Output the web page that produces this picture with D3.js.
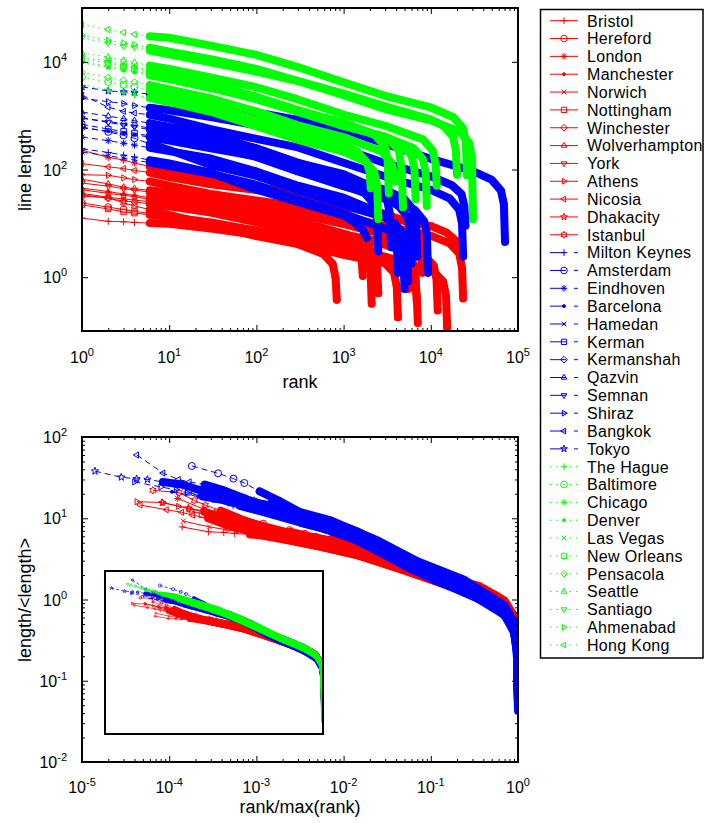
<!DOCTYPE html>
<html>
<head>
<meta charset="utf-8">
<script src="https://cdn.jsdelivr.net/npm/d3@7"></script>
<style>
  body { margin: 0; background: #fff; }
  text { font-family: "Liberation Sans", Arial, Helvetica, sans-serif; fill: #000; }
</style>
</head>
<body>
<svg id="chart" width="704" height="823"></svg>
<script>
// rank-size curves, [rank, line length]
const redNames = ['Bristol', 'Hereford', 'London', 'Manchester', 'Norwich', 'Nottingham', 'Winchester',
  'Wolverhampton', 'York', 'Athens', 'Nicosia', 'Dhakacity', 'Istanbul'];
const redMean = [1.6, 2.8, 13, 4.4, 3.9, 2.0, 4.5, 5.4, 7.8, 5.0, 8.8, 2.7, 1.45];
const redCurves = [
  [[1,12.5],[2,10.9],[3,10.7],[4,10.4],[6,10.1],[10,9.8],[30,8.0],[100,6.1],[300,4.2],[1000,2.6],[3000,1.8],[4970,1.3],[6390,0.83],[6890,0.48],[7100,0.14]],
  [[1,24],[2,20],[3,18],[4,16.6],[6,15.4],[10,13.4],[30,9.3],[100,5.8],[300,4.1],[585,2.7],[750,1.76],[810,0.96],[835,0.38]],
  [[1,228],[2,168],[3,150],[4,132],[6,114],[10,90],[30,65],[100,49],[300,34],[1000,21.5],[3000,15],[5600,10.2],[7200,6.6],[7760,3.6],[8000,1.2]],
  [[1,45],[2,39],[3,35],[4,33],[6,30],[10,26.5],[30,21],[100,14],[300,9],[1000,6],[1750,4.25],[2250,2.75],[2425,1.5],[2500,0.5]],
  [[1,36],[2,30.5],[3,28.4],[4,27],[6,25.2],[10,22.9],[30,18.4],[100,13.8],[300,9.4],[1000,6.0],[3000,4.0],[4830,3.0],[6210,1.9],[6690,1.05],[6900,0.35]],
  [[1,22],[2,18.5],[3,16.3],[4,15.5],[6,14.4],[10,13.1],[30,10.4],[100,7.3],[300,4.9],[1000,3.3],[2940,1.87],[3780,1.21],[4070,0.66],[4200,0.18]],
  [[1,34],[2,29],[3,26],[4,25],[6,23],[10,20.7],[30,15.8],[100,10.4],[300,6.9],[1000,4.4],[1470,3.4],[1890,2.2],[2040,1.2],[2100,0.32]],
  [[1,66],[2,54],[3,47],[4,44],[6,41],[10,37.6],[30,30],[100,22],[300,14.8],[1000,9.7],[3000,6.2],[3850,5.1],[4950,3.3],[5335,1.8],[5500,0.6]],
  [[1,56],[2,49],[3,44],[4,41.6],[6,38],[10,34.5],[30,25.7],[100,16.7],[300,11.3],[1160,6.0],[1490,3.9],[1610,2.1],[1660,1.05]],
  [[1,80],[2,78],[3,70],[4,65],[6,60],[10,50],[30,35],[100,26.5],[300,20.5],[1000,13.5],[3000,8.9],[10000,5.9],[16450,4.25],[21150,2.75],[22800,1.5],[23500,0.4]],
  [[1,128],[2,112],[3,104],[4,96],[6,88],[10,72],[30,53],[100,41.5],[300,32],[1000,21],[3000,13.8],[10000,8.9],[15050,6.8],[19350,4.8],[20850,4.0],[21500,3.6]],
  [[1,42],[2,36],[3,33],[4,31.5],[6,27.6],[10,24],[30,17.6],[100,13.8],[300,9.8],[1000,6.2],[3000,4.4],[8400,2.55],[10800,1.65],[11640,0.9],[12000,0.24]],
  [[1,32],[2,30],[3,24],[4,21],[6,18],[10,14.3],[30,9.3],[100,7.3],[300,5.4],[1000,3.5],[3000,2.4],[10780,1.28],[13860,0.83],[14940,0.45],[15400,0.11]]
];

const blueNames = ['Milton Keynes', 'Amsterdam', 'Eindhoven', 'Barcelona', 'Hamedan', 'Kerman', 'Kermanshah',
  'Qazvin', 'Semnan', 'Shiraz', 'Bangkok', 'Tokyo'];
const blueMean = [17, 14, 17, 28, 9, 33, 36, 66, 45, 75, 40, 90];
const blueCurves = [
  [[1,243],[2,207],[3,185],[4,171],[6,149],[10,130],[30,87],[100,42],[300,25],[1000,14],[1295,10.8],[1665,7.5],[1795,6],[1850,5.4]],
  [[1,616],[2,500],[3,430],[4,380],[6,300],[10,230],[30,121],[100,76],[300,41],[1000,22],[3000,12.7],[3850,10],[4950,6.3],[5335,3.5],[5500,0.84]],
  [[1,400],[2,344],[3,308],[4,284],[6,254],[10,220],[30,160],[100,92],[300,50],[1000,30],[2940,14.4],[3780,9],[4070,5],[4200,1.2]],
  [[1,593],[2,518],[3,473],[4,443],[6,398],[10,345],[30,248],[100,175],[300,94],[1000,49],[3000,30],[6510,18],[8370,11],[9020,6.3],[9300,1.2]],
  [[1,210],[2,180],[3,162],[4,150],[6,134],[10,116],[30,84],[100,52],[300,28],[1000,15.2],[3500,7.2],[4500,4.5],[4850,2.5],[5000,0.6]],
  [[1,690],[2,564],[3,510],[4,474],[6,420],[10,366],[30,267],[100,171],[300,92],[1000,49.5],[3000,28.5],[4200,21.6],[5400,13.5],[5820,7.5],[6000,1.8]],
  [[1,900],[2,780],[3,708],[4,660],[6,588],[10,512],[30,372],[100,248],[300,133],[1000,70],[3000,42],[4900,29],[6300,18],[6790,10],[7000,2.4]],
  [[1,1164],[2,984],[3,876],[4,810],[6,726],[10,618],[30,452],[100,244],[300,132],[1000,82],[2450,43],[3150,27],[3395,15],[3500,3.6]],
  [[1,900],[2,750],[3,670],[4,620],[6,550],[10,472],[30,333],[100,172],[300,94],[1000,54],[1750,36],[2250,22.5],[2425,12.5],[2500,3]],
  [[1,2100],[2,1820],[3,1680],[4,1540],[6,1400],[10,1260],[30,938],[100,660],[300,466],[1000,242],[3000,131],[10000,75],[17500,51],[22500,35],[24250,21],[25000,9]],
  [[1,2400],[2,1440],[3,1200],[4,1120],[6,1040],[10,880],[30,560],[100,371],[300,258],[1000,133],[3000,74],[10000,42],[16450,29],[21150,18],[22800,10],[23500,2.4]],
  [[1,3420],[2,2880],[3,2750],[4,2700],[6,2520],[10,2340],[30,1590],[100,1150],[300,834],[1000,556],[3000,300],[10000,158],[30000,94],[49700,65],[63900,40.5],[68900,22.5],[71000,4.5]]
];

const greenNames = ['The Hague', 'Baltimore', 'Chicago', 'Denver', 'Las Vegas', 'New Orleans', 'Pensacola',
  'Seattle', 'Santiago', 'Ahmenabad', 'Hong Kong'];
const greenMean = [155, 285, 470, 325, 315, 460, 240, 445, 580, 740, 1100];
const greenCurves = [
  [[1,3700],[2,3040],[3,2660],[4,2440],[6,2120],[10,1780],[30,1180],[100,640],[300,356],[1000,214],[1750,144],[2250,90],[2425,50],[2500,12]],
  [[1,5200],[2,4230],[3,3750],[4,3420],[6,2940],[10,2490],[30,1500],[100,840],[300,500],[1000,290],[1435,216],[1845,135],[1990,90],[2050,45]],
  [[1,12200],[2,10300],[3,8700],[4,8000],[6,7000],[10,5820],[30,3900],[100,2160],[300,1200],[1000,750],[2310,432],[2970,270],[3200,150],[3300,36]],
  [[1,9600],[2,7840],[3,6860],[4,6370],[6,5600],[10,4760],[30,3260],[100,2100],[300,1170],[1000,640],[3000,406],[6300,252],[8100,158],[8730,88],[9000,21]],
  [[1,10100],[2,8200],[3,7300],[4,6700],[6,5840],[10,5000],[30,3400],[100,2000],[300,1200],[1000,664],[3000,400],[4690,288],[6030,180],[6500,100],[6700,28]],
  [[1,11400],[2,9400],[3,8200],[4,7550],[6,6550],[10,5550],[30,3800],[100,2250],[300,1270],[1000,725],[3360,360],[4320,225],[4650,100],[4800,20]],
  [[1,6400],[2,5100],[3,4530],[4,4170],[6,3690],[10,3090],[30,2100],[100,1200],[300,660],[1000,400],[2730,216],[3510,135],[3780,90],[3900,60]],
  [[1,14800],[2,12200],[3,10700],[4,9800],[6,8500],[10,7400],[30,5150],[100,3370],[300,2000],[1000,1050],[3000,650],[8190,360],[10530,225],[11350,125],[11700,50]],
  [[1,27700],[2,22400],[3,19600],[4,18600],[6,16200],[10,13800],[30,9800],[100,6580],[300,4410],[1000,2410],[3000,1330],[10000,820],[21350,504],[27450,315],[29600,175],[30500,12]],
  [[1,31700],[2,25200],[3,22600],[4,20900],[6,18300],[10,15500],[30,11200],[100,7400],[300,4400],[1000,2570],[3000,1490],[10000,855],[14000,648],[18000,405],[19400,225],[20000,80]],
  [[1,49400],[2,39800],[3,35000],[4,32500],[6,30000],[10,28000],[30,20000],[100,13500],[300,8000],[1000,4160],[3000,2340],[10000,1420],[18200,936],[23400,585],[25200,325],[26000,78]]
];

// decade exponents that carry tick labels
const topRankExps = [0, 1, 2, 3, 4, 5];
const topLengthExps = [0, 2, 4];
const bottomRankExps = [-5, -4, -3, -2, -1, 0];
const bottomLengthExps = [-2, -1, 0, 1, 2];

const markerCycle = ['+', 'o', '*', '.', 'x', 's', 'd', '^', 'v', '>', '<', 'p', 'h'];

const groups = [
  { names: redNames, curves: redCurves, means: redMean, color: '#ff0000', dash: null, legendDash: null },
  { names: blueNames, curves: blueCurves, means: blueMean, color: '#0000ff', dash: [6, 4], legendDash: '16,8' },
  { names: greenNames, curves: greenCurves, means: greenMean, color: '#00ff00', dash: [1.5, 4], legendDash: '1.5,5' }
];

function star(n, ro, ri) {
  const pts = [];
  for (let k = 0; k < 2 * n; k++) {
    const a = -Math.PI / 2 + k * Math.PI / n, r = k % 2 ? ri : ro;
    pts.push([r * Math.cos(a), r * Math.sin(a)]);
  }
  return 'M' + pts.map(p => p[0].toFixed(2) + ',' + p[1].toFixed(2)).join('L') + 'Z';
}

function markerPath(type, h) {
  const k = h * 0.72, s = h * 0.8;
  switch (type) {
    case '+': return `M${-h},0H${h}M0,${-h}V${h}`;
    case 'x': return `M${-k},${-k}L${k},${k}M${-k},${k}L${k},${-k}`;
    case '*': return `M${-h},0H${h}M0,${-h}V${h}M${-k},${-k}L${k},${k}M${-k},${k}L${k},${-k}`;
    case 'o': return `M${h},0A${h},${h} 0 1,1 ${-h},0A${h},${h} 0 1,1 ${h},0Z`;
    case '.': { const r = h * 0.45; return `M${r},0A${r},${r} 0 1,1 ${-r},0A${r},${r} 0 1,1 ${r},0Z`; }
    case 's': return `M${-s},${-s}H${s}V${s}H${-s}Z`;
    case 'd': return `M0,${-h}L${h},0L0,${h}L${-h},0Z`;
    case '^': return `M0,${-h}L${h * 0.87},${h * 0.5}L${-h * 0.87},${h * 0.5}Z`;
    case 'v': return `M0,${h}L${h * 0.87},${-h * 0.5}L${-h * 0.87},${-h * 0.5}Z`;
    case '>': return `M${h},0L${-h * 0.5},${h * 0.87}L${-h * 0.5},${-h * 0.87}Z`;
    case '<': return `M${-h},0L${h * 0.5},${h * 0.87}L${h * 0.5},${-h * 0.87}Z`;
    case 'p': return star(5, h * 1.1, h * 0.45);
    case 'h': return star(6, h * 1.05, h * 0.6);
  }
  return '';
}

const svg = d3.select('#chart');

// one panel worth of curves; normalize -> rank/max(rank), length/<length>
function drawCurves(layer, x, y, sz, normalize, which) {
  groups.forEach((grp, gi) => {
    if (!which.includes(gi)) return;
    const g = layer.append('g');
    grp.curves.forEach((pts, i) => {
      const N = pts[pts.length - 1][0], M = grp.means[i];
      const P = pts.map(([r, l]) => normalize ? [r / N, l / M, r] : [r, l, r]);
      const line = d3.line().x(d => x(d[0])).y(d => y(d[1]));
      const type = markerCycle[i % markerCycle.length];

      g.append('path')
        .attr('d', line(P))
        .attr('fill', 'none')
        .attr('stroke', grp.color)
        .attr('stroke-width', sz.lw)
        .attr('stroke-dasharray', grp.dash ? grp.dash.map(v => v * sz.dashK).join(',') : null);

      // markers at every rank pile up into a solid band past the first few ranks
      const band = P.filter(d => d[2] >= 6);
      g.append('path')
        .attr('d', line(band))
        .attr('fill', 'none')
        .attr('stroke', grp.color)
        .attr('stroke-width', sz.band)
        .attr('stroke-linecap', 'round')
        .attr('stroke-linejoin', 'round');

      g.selectAll(null)
        .data(P)
        .join('path')
        .attr('transform', d => `translate(${x(d[0])},${y(d[1])})`)
        .attr('d', markerPath(type, sz.m))
        .attr('fill', type === '.' ? grp.color : 'none')
        .attr('stroke', grp.color)
        .attr('stroke-width', sz.mw);
    });
  });
}

function logTicks(lo, hi) {
  return d3.range(lo, hi + 1).map(e => Math.pow(10, e));
}
function logMinors(lo, hi) {
  const out = [];
  for (let e = lo; e < hi; e++) for (let k = 2; k <= 9; k++) out.push(k * Math.pow(10, e));
  return out;
}

function frame(g, x, y, xMaj, xMin, yMaj, yMin) {
  const [x0, x1] = x.range(), [y0, y1] = y.range();
  const add = (axis, tr) => g.append('g').attr('transform', tr).call(axis)
    .call(s => s.select('.domain').remove())
    .call(s => s.selectAll('line').attr('stroke-width', 1));
  [[xMaj, 6], [xMin, 3]].forEach(([vals, len]) => {
    if (!vals.length) return;
    add(d3.axisBottom(x).tickValues(vals).tickSize(-len).tickFormat(''), `translate(0,${y0})`);
    add(d3.axisTop(x).tickValues(vals).tickSize(-len).tickFormat(''), `translate(0,${y1})`);
  });
  [[yMaj, 6], [yMin, 3]].forEach(([vals, len]) => {
    if (!vals.length) return;
    add(d3.axisLeft(y).tickValues(vals).tickSize(-len).tickFormat(''), `translate(${x0},0)`);
    add(d3.axisRight(y).tickValues(vals).tickSize(-len).tickFormat(''), `translate(${x1},0)`);
  });
  g.append('rect')
    .attr('x', x0).attr('y', y1)
    .attr('width', x1 - x0).attr('height', y0 - y1)
    .attr('fill', 'none').attr('stroke', '#000').attr('stroke-width', 2);
}

function powLabel(g, px, py, anchor, exp) {
  const t = g.append('text').attr('x', px).attr('y', py)
    .attr('text-anchor', anchor).attr('font-size', 16);
  t.append('tspan').text('10');
  t.append('tspan').attr('dy', -7).attr('font-size', 11).text(exp);
}

function clipTo(id, x, y) {
  const [x0, x1] = x.range(), [y0, y1] = y.range();
  svg.append('clipPath').attr('id', id).append('rect')
    .attr('x', x0).attr('y', y1).attr('width', x1 - x0).attr('height', y0 - y1);
  return svg.append('g').attr('clip-path', `url(#${id})`);
}

// ---- top panel: line length vs rank
const xT = d3.scaleLog().domain([1, 1e5]).range([82, 518]);
const yT = d3.scaleLog().domain([0.1, 1e5]).range([331, 8]);
drawCurves(clipTo('clipTop', xT, yT), xT, yT, { lw: 1, band: 8, m: 3.5, mw: 1, dashK: 1 }, false, [0, 1, 2]);
const topG = svg.append('g');
frame(topG, xT, yT, logTicks(0, 5), logMinors(0, 5), topLengthExps.map(e => Math.pow(10, e)), []);
topRankExps.forEach(e => powLabel(topG, xT(Math.pow(10, e)), 363, 'middle', e));
topLengthExps.forEach(e => powLabel(topG, 67, yT(Math.pow(10, e)) + 6, 'end', e));
topG.append('text').attr('x', 300).attr('y', 388).attr('text-anchor', 'middle')
  .attr('font-size', 18).text('rank');
topG.append('text').attr('transform', 'translate(31,170) rotate(-90)').attr('text-anchor', 'middle')
  .attr('font-size', 18).text('line length');

// ---- bottom panel: collapsed curves
const xB = d3.scaleLog().domain([1e-5, 1]).range([82, 518]);
const yB = d3.scaleLog().domain([1e-2, 1e2]).range([762, 437]);
drawCurves(clipTo('clipBottom', xB, yB), xB, yB, { lw: 1, band: 8, m: 3.5, mw: 1, dashK: 1 }, true, [0, 1]);
const botG = svg.append('g');
frame(botG, xB, yB, logTicks(-5, 0), logMinors(-5, 0), logTicks(-2, 2), logMinors(-2, 2));
bottomRankExps.forEach(e => powLabel(botG, xB(Math.pow(10, e)), 793, 'middle', e));
bottomLengthExps.forEach(e => powLabel(botG, 67, yB(Math.pow(10, e)) + 6, 'end', e));
botG.append('text').attr('x', 300).attr('y', 813).attr('text-anchor', 'middle')
  .attr('font-size', 18).text('rank/max(rank)');
botG.append('text').attr('transform', 'translate(31,600) rotate(-90)').attr('text-anchor', 'middle')
  .attr('font-size', 18).text('length/<length>');

// inset: same collapse with all three groups, drawn small
const xI = d3.scaleLog().domain([1e-5, 1]).range([105, 323]);
const yI = d3.scaleLog().domain([1e-2, 1e2]).range([734, 571]);
svg.append('rect').attr('x', 105).attr('y', 571).attr('width', 218).attr('height', 163).attr('fill', '#fff');
drawCurves(clipTo('clipInset', xI, yI), xI, yI, { lw: 0.7, band: 4, m: 1.6, mw: 0.7, dashK: 0.5 }, true, [0, 1, 2]);
svg.append('rect').attr('x', 105).attr('y', 571).attr('width', 218).attr('height', 163)
  .attr('fill', 'none').attr('stroke', '#000').attr('stroke-width', 2);

// ---- legend
const leg = svg.append('g');
leg.append('rect').attr('x', 540.5).attr('y', 9.5).attr('width', 162.5).attr('height', 648.5)
  .attr('fill', '#fff').attr('stroke', '#000').attr('stroke-width', 1.5);
let row = 0;
groups.forEach(grp => {
  grp.names.forEach((name, i) => {
    const cy = 20.7 + row * 17.84;
    const type = markerCycle[i % markerCycle.length];
    leg.append('line').attr('x1', 550).attr('x2', 578).attr('y1', cy).attr('y2', cy)
      .attr('stroke', grp.color).attr('stroke-width', 1)
      .attr('stroke-dasharray', grp.legendDash);
    leg.append('path').attr('transform', `translate(564,${cy})`)
      .attr('d', markerPath(type, 3.3))
      .attr('fill', type === '.' ? grp.color : 'none')
      .attr('stroke', grp.color).attr('stroke-width', 1);
    leg.append('text').attr('x', 587).attr('y', cy + 5.8).attr('font-size', 16)
      .attr('letter-spacing', 0.3).text(name);
    row++;
  });
});
</script>
</body>
</html>
